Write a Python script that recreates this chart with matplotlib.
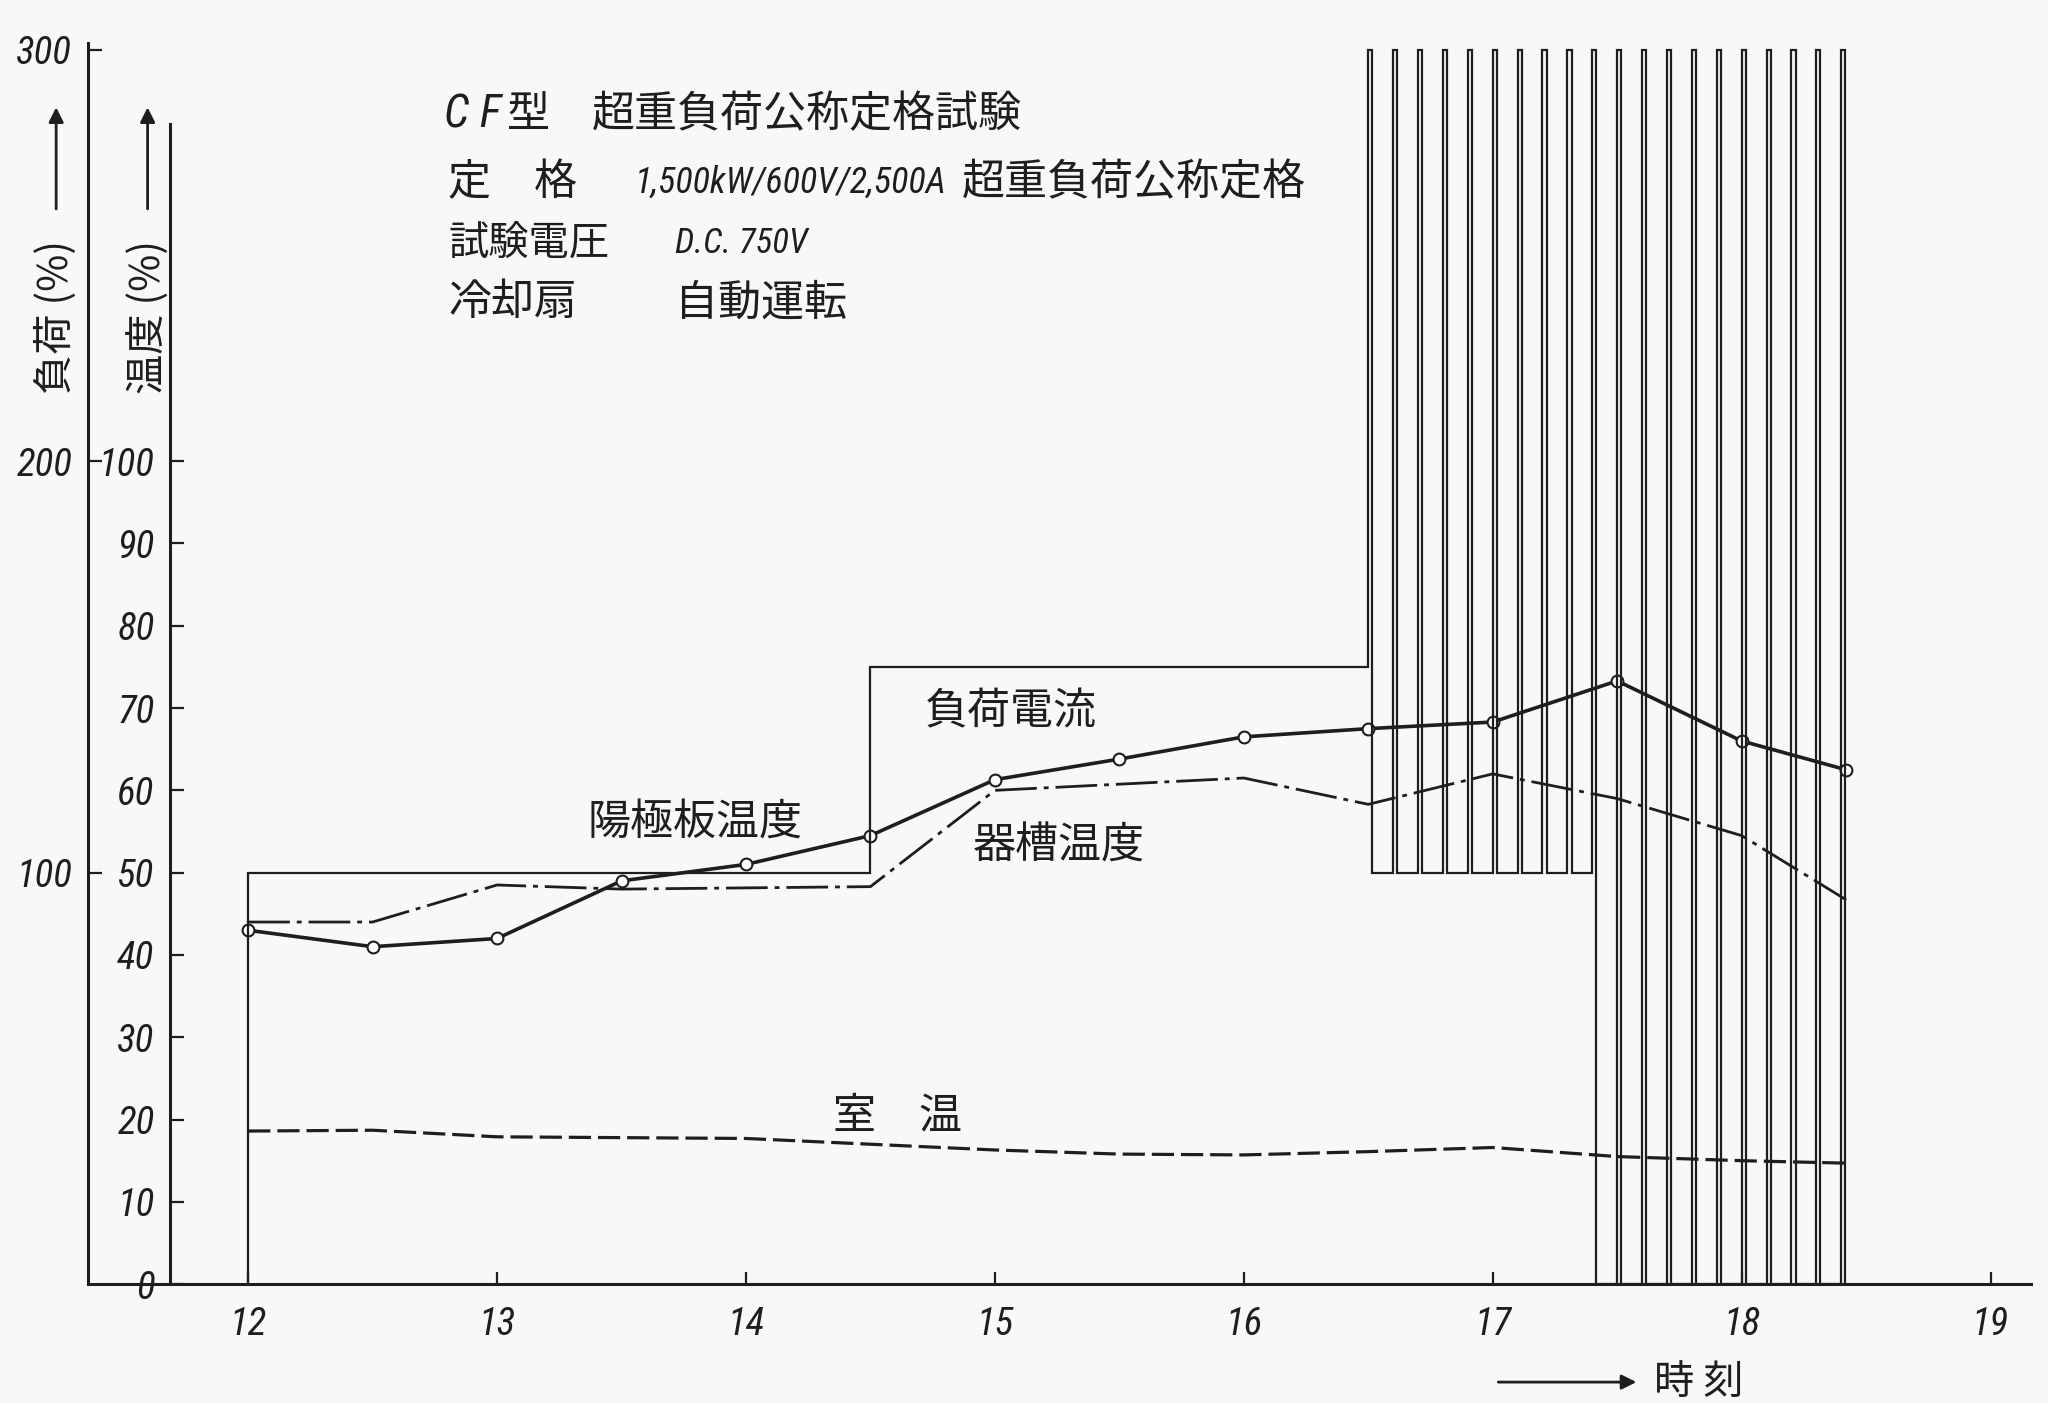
import matplotlib
matplotlib.use("Agg")
import matplotlib.pyplot as plt

plt.rcParams['font.family'] = ['Noto Sans CJK JP', 'DejaVu Sans']
plt.rcParams['lines.scale_dashes'] = False

ink = '#1e1e1e'
paper = '#f8f8f6'
num_font = ['Roboto Condensed', 'Liberation Sans Narrow', 'Roboto', 'DejaVu Sans']

# time of day (hours)
hours = [12, 13, 14, 15, 16, 17, 18, 19]

# anode plate temperature (陽極板温度)
anode_t = [12.0, 12.5, 13.0, 13.5, 14.0, 14.5, 15.0, 15.5, 16.0, 16.5, 17.0, 17.5, 18.0, 18.42]
anode_v = [43, 41, 42, 49, 51, 54.5, 61.3, 63.8, 66.5, 67.5, 68.3, 73.3, 66, 62.5]

# tank temperature (器槽温度)
tank_t = [12.0, 12.5, 13.0, 13.5, 14.5, 15.0, 16.0, 16.5, 17.0, 17.5, 18.0, 18.42]
tank_v = [44, 44, 48.5, 48, 48.3, 60, 61.5, 58.3, 62, 59, 54.5, 46.7]

# room temperature (室温)
room_t = [12.0, 12.5, 13.0, 14.0, 15.0, 15.5, 16.0, 16.5, 17.0, 17.5, 18.0, 18.42]
room_v = [18.6, 18.7, 17.9, 17.7, 16.3, 15.8, 15.7, 16.1, 16.6, 15.5, 15.0, 14.7]

# load current (負荷電流) steps before the overload cycles
load_t = [12.0, 14.5, 16.5]
load_v = [100, 150]

# 300 % for one minute at each of these times, then back to the base level
pulse_t = [16.5, 16.6, 16.7, 16.8, 16.9, 17.0, 17.1, 17.2, 17.3, 17.4,
           17.5, 17.6, 17.7, 17.8, 17.9, 18.0, 18.1, 18.2, 18.3, 18.4]
pulse_base = [100, 100, 100, 100, 100, 100, 100, 100, 100, 0,
              0, 0, 0, 0, 0, 0, 0, 0, 0, 0]
pulse_peak = 300
pulse_len = 1 / 60

temp_ticks = [0, 10, 20, 30, 40, 50, 60, 70, 80, 90, 100]
load_ticks = [100, 200, 300]

# build load step path
lx = [load_t[0], load_t[0]]
ly = [0, load_v[0]]
for i in range(len(load_v)):
    lx += [load_t[i], load_t[i + 1]]
    ly += [load_v[i], load_v[i]]
prev = load_v[-1]
for t, b in zip(pulse_t, pulse_base):
    lx += [t, t, t + pulse_len, t + pulse_len]
    ly += [prev, pulse_peak, pulse_peak, b]
    prev = b

fig = plt.figure(figsize=(20.48, 14.03), dpi=100, facecolor=paper)

# positions given in the 1568x1074 preview frame
def fx(x):
    return x / 1568

def fy(y):
    return 1 - y / 1074

ax = fig.add_axes([fx(67), fy(983), fx(1555) - fx(67), fy(33) - fy(983)])
ax.set_facecolor(paper)
ax.set_xlim(11.3546, 19.1627)
ax.set_ylim(0, 150.8)

ax2 = ax.twinx()
ax2.set_ylim(0, 301.6)

for s in ['top', 'right']:
    ax.spines[s].set_visible(False)
for s in ['top', 'right', 'bottom']:
    ax2.spines[s].set_visible(False)

ax.spines['left'].set_position(('data', 11.685))
ax.spines['left'].set_bounds(0, 141)
for sp in [ax.spines['left'], ax.spines['bottom'], ax2.spines['left']]:
    sp.set_linewidth(2.2)
    sp.set_color(ink)

num_kw = dict(fontstyle='italic', family=num_font, fontsize=28)

ax.set_xticks(hours)
ax.set_xticklabels([str(h) for h in hours], **num_kw)
ax.tick_params(axis='x', direction='in', length=9, width=1.6, color=ink, pad=16, labelcolor=ink)

ax.set_yticks(temp_ticks)
ax.set_yticklabels([str(v) for v in temp_ticks], **num_kw)
ax.tick_params(axis='y', direction='in', length=10, width=1.6, color=ink, pad=11, labelcolor=ink)

ax2.yaxis.tick_left()
ax2.set_yticks(load_ticks)
ax2.set_yticklabels([str(v) for v in load_ticks], **num_kw)
ax2.tick_params(axis='y', direction='in', length=10, width=1.6, color=ink, pad=11, labelcolor=ink)

# curves
ax2.plot(lx, ly, color=ink, lw=1.6, solid_joinstyle='miter')
ax.plot(room_t, room_v, color=ink, lw=2.3, dashes=(16, 5))
ax.plot(tank_t, tank_v, color=ink, lw=2.0, dashes=(30, 5, 3.5, 5))
ax.plot(anode_t, anode_v, color=ink, lw=2.6, marker='o', ms=8.5,
        mfc='white', mec=ink, mew=1.5, zorder=5)

# axis labels with arrows
fig.text(fx(43), fy(243), '負荷 (%)', rotation=90, ha='center', va='center', fontsize=29, color=ink)
fig.text(fx(113), fy(243), '温度 (%)', rotation=90, ha='center', va='center', fontsize=29, color=ink)
for xa in [43, 113]:
    ax.annotate('', xy=(fx(xa), fy(80)), xytext=(fx(xa), fy(162)),
                xycoords='figure fraction', textcoords='figure fraction',
                annotation_clip=False,
                arrowprops=dict(arrowstyle='-|>', lw=2, color=ink, mutation_scale=22))

fig.text(fx(1266), fy(1058), '時 刻', ha='left', va='center', fontsize=29, color=ink)
ax.annotate('', xy=(fx(1255), fy(1058)), xytext=(fx(1145), fy(1058)),
            xycoords='figure fraction', textcoords='figure fraction',
            annotation_clip=False,
            arrowprops=dict(arrowstyle='-|>', lw=2, color=ink, mutation_scale=22))

# curve labels
fig.text(fx(450), fy(630), '陽極板温度', ha='left', va='center', fontsize=31, color=ink)
fig.text(fx(708), fy(545), '負荷電流', ha='left', va='center', fontsize=31, color=ink)
fig.text(fx(745), fy(648), '器槽温度', ha='left', va='center', fontsize=31, color=ink)
fig.text(fx(638), fy(855), '室　温', ha='left', va='center', fontsize=31, color=ink)

# header block
fig.text(fx(340), fy(88), 'C F', ha='left', va='center', fontsize=33, fontstyle='italic',
         family=num_font, color=ink)
fig.text(fx(388), fy(88), '型', ha='left', va='center', fontsize=31, color=ink)
fig.text(fx(453), fy(88), '超重負荷公称定格試験', ha='left', va='center', fontsize=31, color=ink)
fig.text(fx(343), fy(140), '定　格', ha='left', va='center', fontsize=31, color=ink)
fig.text(fx(486), fy(140), '1,500kW/600V/2,500A', ha='left', va='center', fontsize=26,
         fontstyle='italic', family=num_font, color=ink)
fig.text(fx(1000), fy(140), '超重負荷公称定格', ha='right', va='center', fontsize=31, color=ink)
fig.text(fx(343), fy(186), '試験電圧', ha='left', va='center', fontsize=29, color=ink)
fig.text(fx(517), fy(186), 'D.C. 750V', ha='left', va='center', fontsize=25,
         fontstyle='italic', family=num_font, color=ink)
fig.text(fx(343), fy(232), '冷却扇', ha='left', va='center', fontsize=31, color=ink)
fig.text(fx(517), fy(232), '自動運転', ha='left', va='center', fontsize=31, color=ink)

fig.savefig('out.png', dpi=100, facecolor=paper)
